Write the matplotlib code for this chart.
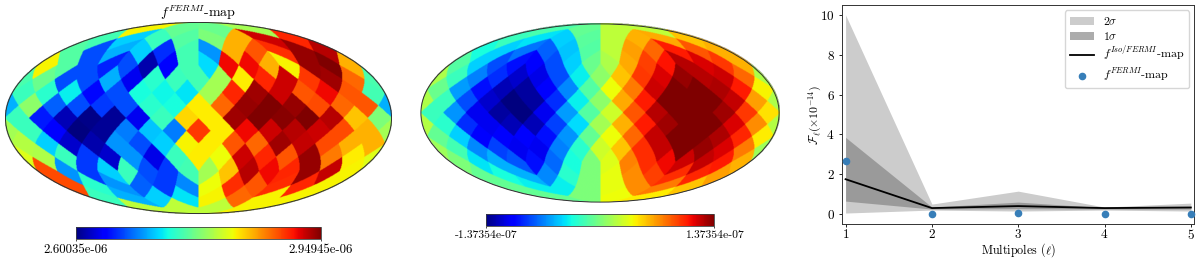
import numpy as np
import matplotlib
matplotlib.use('Agg')
import matplotlib.pyplot as plt
from matplotlib.patches import Ellipse
from matplotlib.cm import ScalarMappable
from matplotlib.colors import Normalize

plt.rcParams['font.family'] = ['cmr10', 'DejaVu Serif']
plt.rcParams['mathtext.fontset'] = 'cm'
plt.rcParams['axes.unicode_minus'] = False
plt.rcParams['axes.formatter.use_mathtext'] = True

NSIDE = 4
# Map pixels per HEALPix ring, left to right, as a fraction of the colour range
fermi_rings = [
    [.65, .47, .48, .55],
    [.43, .33, .42, .45, .50, .72, .93, .87],
    [.45, .20, .30, .33, .17, .43, .27, .72, .82, .86, .98, .95],
    [.65, .45, .20, .16, .20, .04, .12, .43, .34, .90, .90, .72, .65, .98, 1.0, .72],
    [.44, .48, .20, .20, .30, .10, .40, .42, .43, .55, .66, .87, .93, .85, .97, .80],
    [.42, .40, .36, .13, .20, .38, .37, .35, .55, .87, .97, .93, .82, .90, .82, .43],
    [.30, .52, .22, .20, .18, .20, .40, .38, .66, .80, .98, 1.0, .98, .83, .80, .82],
    [.42, .15, .05, .01, .02, .10, .42, .68, .66, .97, 1.0, .99, 1.0, .95, .70, .50],
    [.55, .42, .12, .00, .02, .25, .32, .25, .85, .66, .90, .93, .95, .93, .83, .72],
    [.57, .33, .07, .04, .27, .20, .33, .65, .66, .82, .80, .97, .94, .83, .72, .72],
    [.62, .56, .42, .18, .07, .27, .09, .42, .66, .64, .93, .87, .82, .98, .78, .66],
    [.83, .27, .18, .33, .42, .20, .18, .43, .55, .70, .95, .90, .87, .98, .94, .65],
    [.83, .40, .27, .22, .18, .26, .64, .86, .82, .86, .87, .65],
    [.42, .30, .33, .35, .65, .80, .65, .65],
    [.58, .58, .58, .65],
]
dipole_rings = [
    [.44, .47, .58, .58],
    [.42, .35, .33, .46, .58, .72, .73, .70],
    [.38, .33, .24, .22, .32, .45, .58, .74, .80, .88, .82, .72],
    [.45, .33, .20, .14, .12, .20, .33, .48, .56, .73, .84, .89, .95, .92, .85, .72],
    [.56, .42, .25, .17, .07, .09, .20, .36, .52, .70, .85, .92, .98, .95, .93, .80],
    [.48, .28, .14, .05, .03, .11, .26, .45, .64, .78, .93, 1.0, 1.0, .96, .88, .65],
    [.56, .42, .20, .07, .00, .03, .17, .36, .52, .73, .88, 1.0, 1.0, 1.0, .94, .74],
    [.42, .27, .10, .03, .00, .10, .28, .45, .60, .82, .95, 1.0, 1.0, .97, .85, .67],
    [.57, .40, .17, .10, .05, .05, .19, .34, .55, .72, .88, .97, 1.0, 1.0, .92, .76],
    [.47, .33, .12, .11, .11, .14, .27, .47, .64, .80, .94, 1.0, 1.0, .96, .87, .66],
    [.54, .43, .26, .19, .10, .10, .25, .40, .60, .70, .86, .94, 1.0, .98, .92, .78],
    [.50, .35, .30, .21, .14, .23, .38, .50, .62, .77, .86, .90, .93, .94, .88, .72],
    [.47, .38, .30, .26, .40, .50, .63, .76, .84, .86, .87, .74],
    [.47, .36, .36, .50, .63, .76, .78, .70],
    [.47, .50, .64, .66],
]
fermi_range = (2.60035e-06, 2.94945e-06)
fermi_labels = ['2.60035e-06', '2.94945e-06']
dipole_range = (-1.37354e-07, 1.37354e-07)
dipole_labels = ['-1.37354e-07', '1.37354e-07']
map_title = r'$f^{FERMI}$-map'

multipoles = [1, 2, 3, 4, 5]
sigma2_low = [.05, .20, .15, .20, .15]
sigma2_high = [10.0, .50, 1.15, .35, .55]
sigma1_low = [.65, .25, .27, .25, .25]
sigma1_high = [3.85, .35, .60, .32, .38]
iso_line = [1.75, .30, .40, .30, .33]
fermi_points = [2.67, 0.0, .05, 0.0, .02]

W, H = 1200, 261
fig = plt.figure(figsize=(W / 100, H / 100), dpi=100)


def axes_px(x0, y0, x1, y1):
    return fig.add_axes([x0 / W, 1 - y1 / H, (x1 - x0) / W, (y1 - y0) / H])


def pixel_rc(z, phi):
    """Ring (0-based) and in-ring index of each sky position, HEALPix RING layout."""
    ns = NSIDE
    tt = np.mod(phi, 2 * np.pi) / (np.pi / 2)
    za = np.abs(z)
    t1 = ns * (0.5 + tt)
    t2 = ns * z * 0.75
    jp = np.floor(t1 - t2).astype(int)
    jm = np.floor(t1 + t2).astype(int)
    ir = ns + 1 + jp - jm
    ks = 1 - (ir & 1)
    eq_ip = np.mod((jp + jm - ns + ks + 1) // 2, 4 * ns)
    eq_ring = ns - 1 + ir
    tp = tt - np.floor(tt)
    tmp = ns * np.sqrt(np.maximum(3 * (1 - za), 0))
    cjp = np.floor(tp * tmp).astype(int)
    cjm = np.floor((1 - tp) * tmp).astype(int)
    cir = np.maximum(cjp + cjm + 1, 1)
    cap_ip = np.floor(tt * cir).astype(int)
    cap_ip = np.mod(cap_ip, 4 * cir)
    cap_ring = np.where(z > 0, cir, 4 * ns - cir)
    eq = za <= 2 / 3
    return np.where(eq, eq_ring, cap_ring) - 1, np.where(eq, eq_ip, cap_ip)


def ring_table(rings):
    """Per-ring values indexed by HEALPix in-ring index instead of left-to-right."""
    table = np.full((len(rings), 4 * NSIDE), np.nan)
    for r, vals in enumerate(rings):
        n = len(vals)
        ring = r + 1
        shifted = ring < NSIDE or ring > 3 * NSIDE or (ring - NSIDE) % 2 == 0
        start = n // 2 - 1 if shifted else n // 2
        for left, v in enumerate(vals):
            table[r, (start - left) % n] = v
    return table


def draw_map(box, rings, vrange, cbar_box, labels, fs, title=None):
    ax = axes_px(*box)
    nx, ny = 800, 400
    xs = (np.arange(nx) + .5) / nx * 4 - 2
    ys = 1 - (np.arange(ny) + .5) / ny * 2
    X, Y = np.meshgrid(xs, ys)
    inside = (X / 2) ** 2 + Y ** 2 < 1
    t = np.arcsin(np.clip(Y, -1, 1))
    z = np.clip((2 * t + np.sin(2 * t)) / np.pi, -1, 1)
    cost = np.where(np.cos(t) > 1e-6, np.cos(t), 1e-6)
    phi = -(np.pi / 2) * X / cost
    r, ip = pixel_rc(z, phi)
    table = ring_table(rings)
    img = table[np.clip(r, 0, len(rings) - 1), np.clip(ip, 0, 4 * NSIDE - 1)]
    img = vrange[0] + img * (vrange[1] - vrange[0])
    img = np.ma.masked_where(~inside, img)
    norm = Normalize(*vrange)
    ax.imshow(img, extent=[-2, 2, -1, 1], cmap='jet', norm=norm,
              interpolation='bilinear', aspect='auto')
    ax.add_patch(Ellipse((0, 0), 4, 2, fill=False, ec='#303030', lw=.7))
    ax.set_xlim(-2.01, 2.01)
    ax.set_ylim(-1.01, 1.01)
    ax.axis('off')
    if title:
        ax.text(0, 1.0, title, ha='center', va='bottom', fontsize=10)
    cax = axes_px(*cbar_box)
    cb = fig.colorbar(ScalarMappable(norm, 'jet'), cax=cax, orientation='horizontal')
    cb.set_ticks(list(vrange))
    cb.set_ticklabels(labels)
    cb.ax.tick_params(length=1.5, width=.5, labelsize=fs, pad=1.5)
    cb.minorticks_off()
    cb.outline.set_linewidth(.6)
    cb.outline.set_edgecolor('#404040')


draw_map((4.5, 21.5, 392.5, 214.5), fermi_rings, fermi_range,
         (75.7, 226.7, 320.7, 239.3), fermi_labels, 9.2, map_title)
draw_map((420, 23, 780, 203), dipole_rings, dipole_range,
         (485.7, 214.3, 714.3, 226), dipole_labels, 8.4)

ax = axes_px(841.7, 5, 1194.3, 224)
ax.fill_between(multipoles, sigma2_low, sigma2_high, color='gray', alpha=.4, lw=0, label=r'$2\sigma$')
ax.fill_between(multipoles, sigma1_low, sigma1_high, color='gray', alpha=.65, lw=0, label=r'$1\sigma$')
ax.plot(multipoles, iso_line, color='black', lw=1.3, label=r'$f^{Iso/FERMI}$-map')
ax.scatter(multipoles, fermi_points, color='#377eb8', s=20, zorder=5, clip_on=False, label=r'$f^{FERMI}$-map')
ax.set_xlim(.955, 5.04)
ax.set_ylim(-.5, 10.5)
ax.set_xticks(multipoles)
ax.set_yticks([0, 2, 4, 6, 8, 10])
ax.tick_params(labelsize=9.5, length=2.5, width=.6, pad=2.5)
ax.tick_params(axis='x', pad=.5)
for s in ax.spines.values():
    s.set_linewidth(.7)
    s.set_edgecolor('#333333')
ax.set_xlabel(r'Multipoles ($\ell$)', fontsize=8.7, va='center')
ax.xaxis.set_label_coords(.5, -.118)
ax.set_ylabel(r'$\mathcal{F}_\ell (\times 10^{-14})$', fontsize=8.5, va='center')
ax.yaxis.set_label_coords(-.0757, .5)
leg = ax.legend(loc='upper right', fontsize=8.6, frameon=True, borderaxespad=.45,
                labelspacing=.25, borderpad=.4, handletextpad=.75)

fig.savefig('out.png', dpi=100)
